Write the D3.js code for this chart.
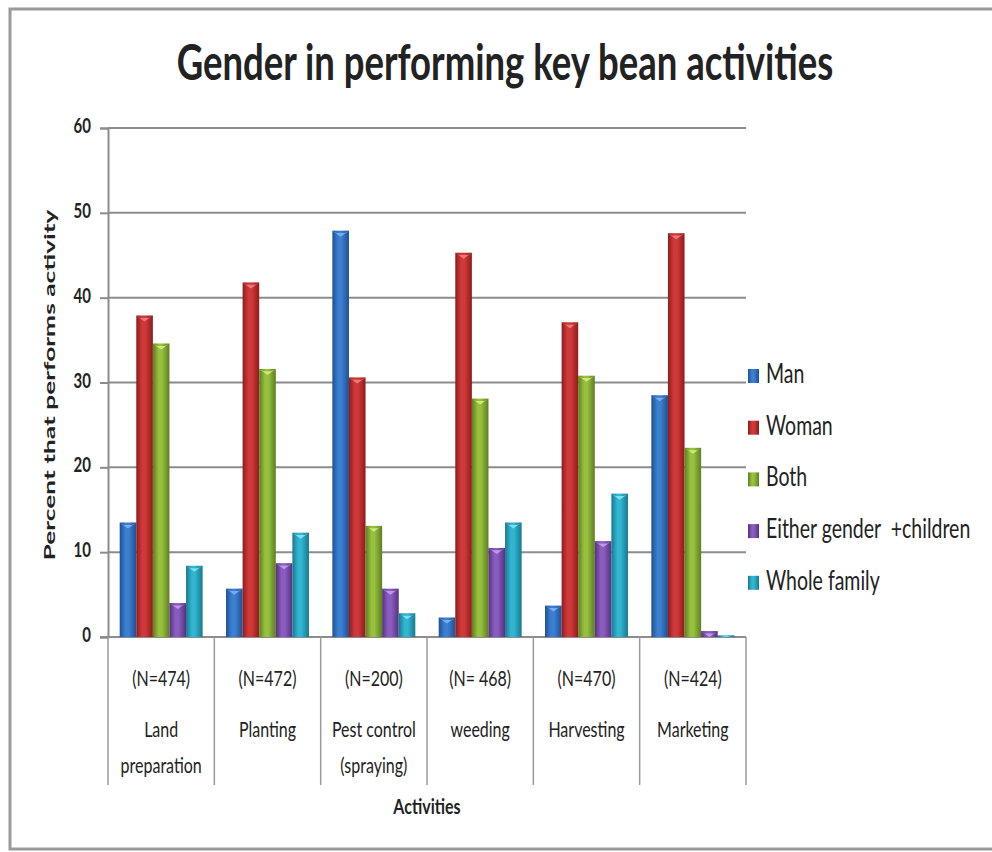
<!DOCTYPE html>
<html>
<head>
<meta charset="utf-8">
<script src="https://cdn.jsdelivr.net/npm/d3@7"></script>
<style>
  body { margin: 0; background: #fff; }
  svg text { font-family: Lato, "Open Sans", sans-serif; fill: #222; }
</style>
</head>
<body>
<div id="chart"></div>
<script>
// data
const categories = ['Land preparation', 'Planting', 'Pest control (spraying)', 'weeding', 'Harvesting', 'Marketing'];
const catLines = [['Land', 'preparation'], ['Planting'], ['Pest control', '(spraying)'], ['weeding'], ['Harvesting'], ['Marketing']];
const sampleSizes = ['(N=474)', '(N=472)', '(N=200)', '(N= 468)', '(N=470)', '(N=424)'];
const seriesNames = ['Man', 'Woman', 'Both', 'Either gender  +children', 'Whole family'];
const man = [13.5, 5.7, 47.9, 2.3, 3.7, 28.5];
const woman = [37.9, 41.8, 30.6, 45.3, 37.1, 47.6];
const both = [34.6, 31.6, 13.1, 28.1, 30.8, 22.3];
const either = [4.0, 8.7, 5.7, 10.5, 11.3, 0.7];
const wholeFamily = [8.4, 12.3, 2.8, 13.5, 16.9, 0.2];
const yTicks = [0, 10, 20, 30, 40, 50, 60];

const seriesValues = [man, woman, both, either, wholeFamily];
const colors = [
  { dark: '#1f4f94', mid: '#3b7fd0', light: '#7fb2ec' },
  { dark: '#8e1c1a', mid: '#d0393a', light: '#ef8080' },
  { dark: '#5d7e1f', mid: '#96c03e', light: '#d3ee80' },
  { dark: '#56317f', mid: '#8a5cc0', light: '#c3a0ea' },
  { dark: '#17798e', mid: '#31b5d1', light: '#86e3f3' }
];

const W = 992, H = 852;
const sy = 1.35; // the source image is stretched vertically
const margin = { top: 128, left: 108, right: 246, bottom: 215 };

const svg = d3.select('#chart').append('svg')
  .attr('width', W)
  .attr('height', H);

const defs = svg.append('defs');
colors.forEach((c, i) => {
  const g = defs.append('linearGradient')
    .attr('id', 'grad' + i)
    .attr('x1', '0%').attr('x2', '100%').attr('y1', '0%').attr('y2', '0%');
  g.append('stop').attr('offset', '0%').attr('stop-color', c.dark);
  g.append('stop').attr('offset', '35%').attr('stop-color', c.mid);
  g.append('stop').attr('offset', '55%').attr('stop-color', c.mid);
  g.append('stop').attr('offset', '100%').attr('stop-color', c.dark);
});

// outer frame
svg.append('rect')
  .attr('x', 10).attr('y', 9)
  .attr('width', 990).attr('height', 840)
  .attr('fill', 'none')
  .attr('stroke', '#9a9a9a')
  .attr('stroke-width', 3);

const x0 = d3.scaleBand()
  .domain(categories)
  .range([margin.left, W - margin.right])
  .paddingInner(0.22)
  .paddingOuter(0.11);

const x1 = d3.scaleBand()
  .domain(d3.range(seriesNames.length))
  .range([0, x0.bandwidth()]);

const y = d3.scaleLinear()
  .domain([0, 60])
  .range([H - margin.bottom, margin.top]);

// helper for vertically stretched text
function stretchedText(parent, x, yy, str, size, anchor, weight) {
  return parent.append('text')
    .attr('transform', `translate(${x},${yy}) scale(1,${sy})`)
    .attr('text-anchor', anchor || 'middle')
    .style('font-size', size + 'px')
    .style('font-weight', weight || 400)
    .text(str);
}

// gridlines
svg.append('g')
  .selectAll('line')
  .data(yTicks.filter(d => d > 0))
  .join('line')
  .attr('x1', margin.left).attr('x2', W - margin.right)
  .attr('y1', d => y(d)).attr('y2', d => y(d))
  .attr('stroke', '#8c8c8c')
  .attr('stroke-width', 2);

// y axis
const yAxis = svg.append('g')
  .attr('transform', `translate(${margin.left},0)`)
  .call(d3.axisLeft(y).tickValues(yTicks).tickSize(8).tickFormat(''));
yAxis.select('.domain').attr('stroke', '#8c8c8c').attr('stroke-width', 2);
yAxis.selectAll('.tick line').attr('stroke', '#8c8c8c').attr('stroke-width', 2);

yTicks.forEach(t => {
  stretchedText(svg, 91, y(t) + 5, String(t), 15, 'end', 700);
});

// x axis: baseline plus cell separators
const xBoundaries = categories.map(c => x0(c) - x0.step() * x0.paddingInner() / 2)
  .concat([W - margin.right]);
svg.append('line')
  .attr('x1', margin.left - 8).attr('x2', W - margin.right)
  .attr('y1', y(0)).attr('y2', y(0))
  .attr('stroke', '#8c8c8c').attr('stroke-width', 2);
svg.append('g')
  .selectAll('line')
  .data(xBoundaries)
  .join('line')
  .attr('x1', d => d).attr('x2', d => d)
  .attr('y1', y(0)).attr('y2', 785)
  .attr('stroke', '#9a9a9a')
  .attr('stroke-width', 1.5);

// bars
const groups = svg.append('g')
  .selectAll('g')
  .data(categories)
  .join('g')
  .attr('transform', d => `translate(${x0(d)},0)`);

groups.each(function (cat, ci) {
  const g = d3.select(this);
  seriesValues.forEach((vals, si) => {
    const v = vals[ci];
    const bx = x1(si), bw = x1.bandwidth();
    const top = y(v);
    g.append('rect')
      .attr('x', bx).attr('y', top)
      .attr('width', bw).attr('height', y(0) - top)
      .attr('fill', `url(#grad${si})`);
    const capH = Math.min(6, y(0) - top);
    if (capH > 1) {
      g.append('path')
        .attr('d', `M${bx},${top}L${bx + bw / 2},${top + capH}L${bx + bw},${top}L${bx + bw * 0.75},${top + capH * 0.4}L${bx + bw * 0.25},${top + capH * 0.4}Z`)
        .attr('fill', colors[si].light)
        .attr('opacity', 0.9);
    }
  });
});

// category labels
categories.forEach((c, i) => {
  const cx = x0(c) + x0.bandwidth() / 2;
  stretchedText(svg, cx, 686, sampleSizes[i], 16);
  catLines[i].forEach((line, li) => {
    stretchedText(svg, cx, 737 + li * 36, line, 16);
  });
});

// axis titles
stretchedText(svg, (margin.left + W - margin.right) / 2, 814, 'Activities', 16, 'middle', 700);

svg.append('text')
  .attr('transform', 'translate(55,385) rotate(-90) scale(1.7,1)')
  .attr('text-anchor', 'middle')
  .style('font-size', '15.5px')
  .style('font-weight', 700)
  .text('Percent that performs activity');

// title
stretchedText(svg, 505, 80, 'Gender in performing key bean activities', 36.5, 'middle', 700);

// legend
const legendY0 = 376, legendStep = 51.7;
seriesNames.forEach((name, i) => {
  const ly = legendY0 + i * legendStep;
  svg.append('rect')
    .attr('x', 748).attr('y', ly - 7)
    .attr('width', 11).attr('height', 14)
    .attr('fill', `url(#grad${i})`);
  stretchedText(svg, 766, ly + 7, name, 19.5, 'start', 400)
    .style('white-space', 'pre');
});
</script>
</body>
</html>
